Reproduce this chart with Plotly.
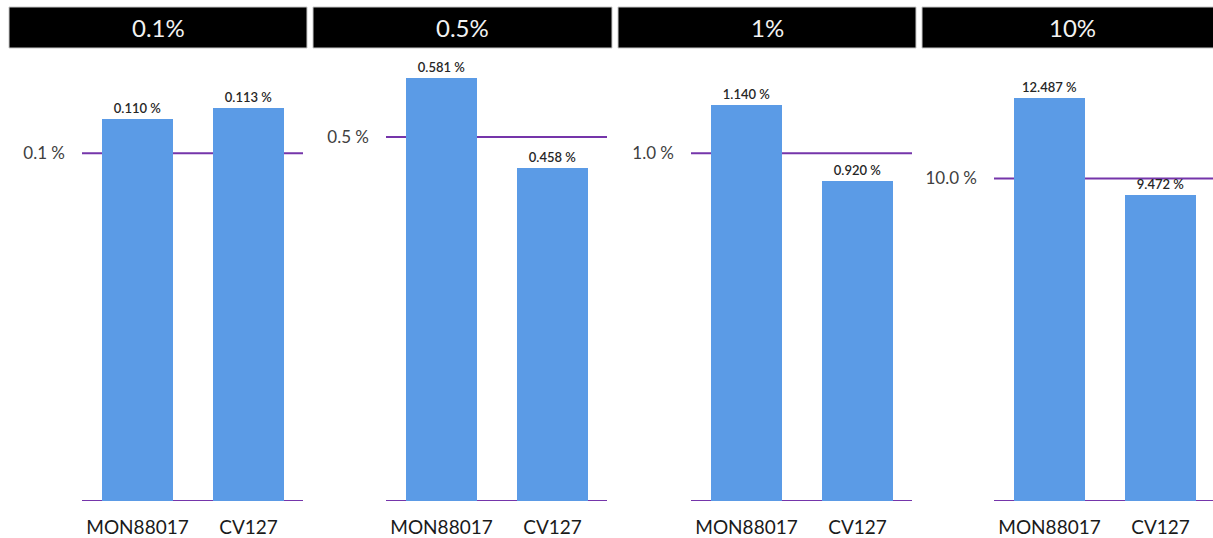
import plotly.graph_objects as go

# Spiked concentration for each panel and the measured values per sample
panel_titles = ["0.1%", "0.5%", "1%", "10%"]
reference_levels = [0.1, 0.5, 1.0, 10.0]
samples = ["MON88017", "CV127"]
mon88017_values = [0.110, 0.581, 1.140, 12.487]
cv127_values = [0.113, 0.458, 0.920, 9.472]

W, H = 1213, 538
BAR_COLOR = "#5B9BE6"
LINE_COLOR = "#7535AA"
FONT = "Lato"

# pixel layout of the four plot areas (left, right) and common vertical extent
x_px = [(82, 303), (386, 607), (691, 912), (994, 1213)]
y_bottom_px, y_top_px = 501, 60
y_max = [0.12683, 0.6058, 1.2683, 13.67]
header_px = [(9, 307), (313, 612), (618, 916), (922, 1222)]
header_y = (7, 48)

fig = go.Figure()
shapes, annotations = [], []

for i in range(4):
    n = "" if i == 0 else str(i + 1)
    vals = [mon88017_values[i], cv127_values[i]]
    fig.add_trace(go.Bar(
        x=samples, y=vals,
        xaxis="x" + n, yaxis="y" + n,
        width=0.64,
        marker=dict(color=BAR_COLOR, line=dict(width=0)),
        text=[f"{v:.3f} %" for v in vals],
        textposition="outside",
        textfont=dict(family=FONT, size=13, color="#262626", weight=600),
        cliponaxis=False,
        showlegend=False,
    ))

    x0, x1 = x_px[i]
    span = (x1 - x0) / 111.0  # keep 111 px per category in every panel
    fig.layout["xaxis" + n] = dict(
        domain=[x0 / W, min(x1 / W, 1.0)],
        anchor="y" + n,
        range=[-0.5, -0.5 + span],
        type="category",
        showgrid=False, zeroline=False, showline=False, ticks="",
        tickfont=dict(family=FONT, size=19, color="#1a1a1a"),
        ticklabelstandoff=13,
        fixedrange=True,
    )
    fig.layout["yaxis" + n] = dict(
        domain=[(H - y_bottom_px) / H, (H - y_top_px) / H],
        anchor="x" + n,
        range=[0, y_max[i]],
        showgrid=False, zeroline=False, showline=False, ticks="",
        tickvals=[reference_levels[i]],
        ticktext=[f"{reference_levels[i]:.1f} %"],
        tickfont=dict(family=FONT, size=17, color="#404040"),
        ticklabelstandoff=16,
        fixedrange=True,
    )

    # baseline and reference level lines behind the bars
    for yv in (0, reference_levels[i]):
        shapes.append(dict(
            type="line", xref=f"x{n} domain", yref="y" + n,
            x0=0, x1=1, y0=yv, y1=yv, layer="below",
            line=dict(color=LINE_COLOR, width=2),
        ))

    # black header strip with the concentration title
    hx0, hx1 = header_px[i]
    shapes.append(dict(
        type="rect", xref="paper", yref="paper",
        x0=hx0 / W, x1=hx1 / W,
        y0=(H - header_y[1]) / H, y1=(H - header_y[0]) / H,
        fillcolor="black", line=dict(color="#c8c8c8", width=1), layer="above",
    ))
    annotations.append(dict(
        xref="paper", yref="paper",
        x=(hx0 + hx1) / 2 / W,
        y=(H - (header_y[0] + header_y[1]) / 2) / H,
        text=panel_titles[i], showarrow=False,
        xanchor="center", yanchor="middle",
        font=dict(family=FONT, size=24, color="#f2f2f2", weight=400),
    ))

fig.update_layout(
    width=W, height=H,
    margin=dict(l=0, r=0, t=0, b=0),
    paper_bgcolor="white", plot_bgcolor="white",
    shapes=shapes, annotations=annotations,
    bargap=0, showlegend=False,
)

fig.write_html("out.html", config={"displayModeBar": False})
